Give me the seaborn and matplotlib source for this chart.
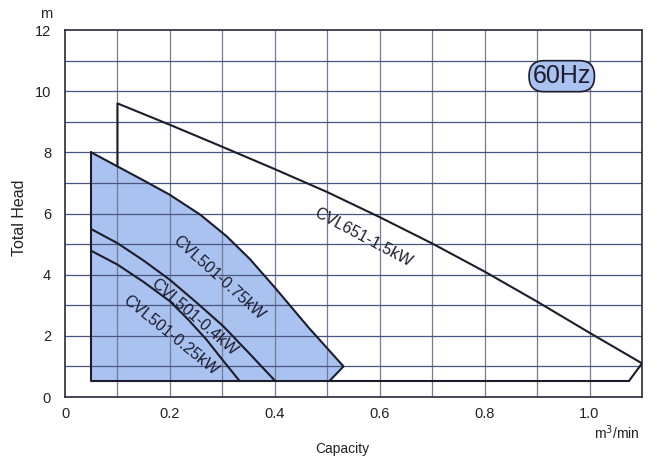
import numpy as np
import pandas as pd
import matplotlib
matplotlib.use("Agg")
import matplotlib.pyplot as plt
import seaborn as sns

# ---- data ----
q_15 = [0.10, 0.10, 0.20, 0.30, 0.40, 0.50, 0.60, 0.70, 0.80, 0.90, 1.00, 1.10, 1.075]
h_15 = [7.54, 9.60, 8.90, 8.18, 7.45, 6.70, 5.88, 5.02, 4.10, 3.12, 2.10, 1.10, 0.52]

q_075 = [0.05, 0.10, 0.15, 0.20, 0.258, 0.3085, 0.353, 0.40, 0.465, 0.531, 0.504]
h_075 = [8.00, 7.54, 7.08, 6.61, 5.96, 5.25, 4.50, 3.58, 2.26, 1.00, 0.52]

q_04 = [0.05, 0.10, 0.15, 0.20, 0.25, 0.302, 0.35, 0.401]
h_04 = [5.49, 5.03, 4.46, 3.83, 3.10, 2.31, 1.45, 0.52]

q_025 = [0.05, 0.10, 0.15, 0.20, 0.235, 0.27, 0.30, 0.333]
h_025 = [4.78, 4.33, 3.76, 3.13, 2.53, 1.87, 1.22, 0.52]

q_base = [0.05, 0.05, 1.075]
h_base = [8.00, 0.52, 0.52]

labels = ["CVL651-1.5kW", "CVL501-0.75kW", "CVL501-0.4kW", "CVL501-0.25kW"]
x_ticks = [0, 0.2, 0.4, 0.6, 0.8, 1.0]
x_ticklabels = ["0", "0.2", "0.4", "0.6", "0.8", "1.0"]
y_ticks = [0, 2, 4, 6, 8, 10, 12]

sns.set_style("white")
plt.rcParams["font.family"] = ["Liberation Sans", "DejaVu Sans"]

LINE = "#1c1c2c"
FILL = "#a9c2ef"

fig = plt.figure(figsize=(6.57, 4.61), dpi=100)
ax = fig.add_axes([65 / 657, 64 / 461, 577 / 657, 367 / 461])

# blue filled region under the 0.75 kW curve
fill_x = q_075 + [q_base[0]]
fill_y = h_075 + [h_base[1]]
ax.fill(fill_x, fill_y, color=FILL, zorder=1, lw=0)

# grid (drawn over the fill, as in the original)
for xv in np.arange(0.1, 1.1, 0.1):
    ax.axvline(xv, color="#747c94", lw=0.9, zorder=2)
for yv in range(1, 12):
    ax.axhline(yv, color="#4a5680", lw=0.9, zorder=2)

curves = [(q_15, h_15), (q_075, h_075), (q_04, h_04), (q_025, h_025), (q_base, h_base)]
for q, h in curves:
    df = pd.DataFrame({"q": q, "h": h})
    sns.lineplot(data=df, x="q", y="h", sort=False, estimator=None,
                 color=LINE, lw=1.5, ax=ax, zorder=3)

# curve labels
ax.text(0.569, 5.2, labels[0], rotation=-28, ha="center", va="center",
        fontsize=11.5, color=LINE, zorder=4)
ax.text(0.294, 3.89, labels[1], rotation=-42, ha="center", va="center",
        fontsize=11.5, color=LINE, zorder=4)
ax.text(0.246, 2.62, labels[2], rotation=-41, ha="center", va="center",
        fontsize=11.5, color=LINE, zorder=4)
ax.text(0.202, 2.03, labels[3], rotation=-39, ha="center", va="center",
        fontsize=11.5, color=LINE, zorder=4)

ax.text(0.947, 10.49, "60Hz", ha="center", va="center", fontsize=18, color=LINE,
        zorder=5,
        bbox=dict(boxstyle="round,pad=0.14,rounding_size=0.6", fc=FILL, ec=LINE, lw=1.2))

ax.set_xlim(0, 1.1)
ax.set_ylim(0, 12)
ax.set_xticks(x_ticks)
ax.set_xticklabels(x_ticklabels)
ax.set_yticks(y_ticks)
ax.tick_params(axis="both", length=0, labelsize=10.5, colors="#222222")
ax.tick_params(axis="x", pad=7)
ax.tick_params(axis="y", pad=10)
ax.set_xlabel("")
ax.set_ylabel("")
for s in ax.spines.values():
    s.set_color("#2a2a3a")
    s.set_linewidth(1.2)
    s.set_zorder(6)

fig.text(20 / 657, 1 - 218 / 461, "Total Head", rotation=90, ha="center", va="center",
         fontsize=11.5, color="#222222")
fig.text(46 / 657, 1 - 14 / 461, "m", ha="center", va="center", fontsize=10.5, color="#222222")
fig.text(342 / 657, 1 - 449 / 461, "Capacity", ha="center", va="center", fontsize=10, color="#222222")
fig.text(640 / 657, 1 - 433 / 461, "m$^3$/min", ha="right", va="center", fontsize=10, color="#222222")

fig.savefig("out.png", dpi=100, facecolor="white")
